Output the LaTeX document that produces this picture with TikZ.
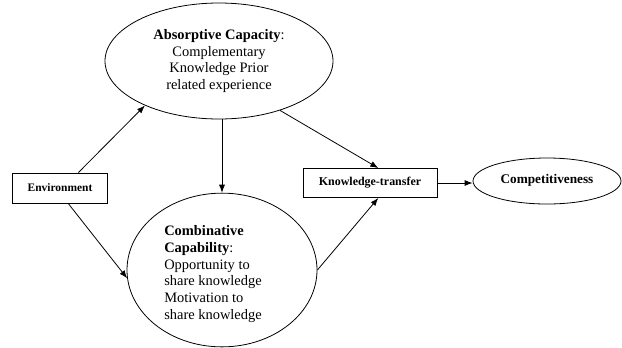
\documentclass[tikz,border=0pt]{standalone}
\usepackage{fontspec}
\setmainfont{Liberation Serif}
\usetikzlibrary{shapes.geometric,arrows.meta}

\begin{document}
\begin{tikzpicture}[x=1bp,y=-1bp]
		\tikzset{oval/.style={draw, ellipse, line width=0.8pt, inner sep=0pt},
		         box/.style={draw, rectangle, line width=0.9pt, inner sep=0pt},
		         link/.style={-{Latex[length=8bp,width=6bp]}, line width=0.8pt}}
		\useasboundingbox (0,0) rectangle (622,347);

		\node[box, minimum width=95bp, minimum height=30bp,
			font=\fontsize{11.5}{13}\selectfont] (env) at (60,188) {\textbf{Environment}};
		\node[oval, minimum width=228bp, minimum height=116bp, align=center,
			font=\fontsize{14.5}{16.5}\selectfont] (absorb) at (219,61)
			{\textbf{Absorptive Capacity}:\\Complementary\\Knowledge Prior\\related experience};
		\node[oval, minimum width=190bp, minimum height=150bp,
			font=\fontsize{14.5}{16.8}\selectfont] (combine) at (222,270)
			{\begin{tabular}{@{}l@{\hspace{18bp}}}
			\rule{0pt}{20bp}\textbf{Combinative}\\\textbf{Capability}:\\Opportunity to\\share knowledge\\Motivation to\\share knowledge
			\end{tabular}};
		\node[box, minimum width=134bp, minimum height=29bp,
			font=\fontsize{12}{14}\selectfont] (transfer) at (370,183) {\textbf{Knowledge-transfer}};
		\node[oval, minimum width=148bp, minimum height=46bp,
			font=\fontsize{13.3}{15}\selectfont] (compete) at (547,181)
			{\raisebox{4bp}{\textbf{Competitiveness}}};

		\draw[link] (env.40) -- (absorb.211);
		\draw[link] (env.-62) -- (combine.185);
		\draw[link] (absorb.south -| combine.north) -- (combine.north);
		\draw[link] (absorb.-39) -- (transfer.61);
		\draw[link] (combine.east) -- (transfer.-61);
		\draw[link] (transfer.east) -- (transfer.east -| compete.west);
	\end{tikzpicture}
\end{document}
